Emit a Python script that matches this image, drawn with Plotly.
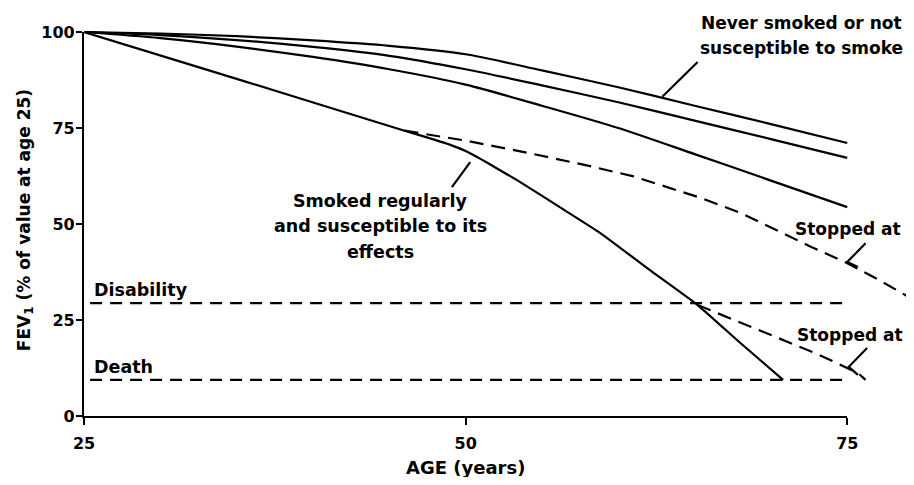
import plotly.graph_objects as go

# ---- data ----
ages_std = [25, 30, 35, 40, 45, 50, 55, 60, 65, 70, 75]
fev_never = [100, 99.6, 98.9, 97.8, 96.4, 94.2, 90.0, 85.6, 80.8, 76.0, 71.1]
fev_mid = [100, 99.2, 97.9, 96.1, 93.8, 90.3, 86.1, 81.7, 76.9, 72.1, 67.2]
fev_low = [100, 98.4, 96.2, 93.5, 90.3, 86.3, 80.8, 75.0, 68.2, 61.3, 54.4]

ages_smoker = [25, 35, 46, 48, 49, 50, 51, 52, 53.5, 56.4, 58.8, 62, 65.2, 68, 70.8]
fev_smoker = [100, 87.8, 74.3, 71.9, 70.6, 69.0, 66.9, 64.6, 61.1, 53.8, 47.7, 38.2, 28.9, 19.0, 9.4]

ages_stop45 = [46, 50, 54, 58, 61, 63, 65.4, 68, 70.2, 72.5, 75, 77, 79.2]
fev_stop45 = [74.3, 71.7, 68.6, 65.2, 62.4, 59.9, 56.8, 52.9, 48.6, 44.3, 39.8, 35.6, 30.6]

ages_stop65 = [65.2, 68, 70.6, 73, 75.7, 76.2]
fev_stop65 = [28.9, 24.4, 20.2, 16.2, 11.2, 9.4]

threshold_ages = [25.4, 75]
disability_level = 29.4
death_level = 9.4

x_ticks = [25, 50, 75]
y_ticks = [0, 25, 50, 75, 100]

# ---- figure ----
FONT = "DejaVu Sans"
BLK = "black"
PX_PER_YEAR = 15.265
# page body has an 8px margin; figure is sized/offset to compensate
W, H = 898, 469
L, R, T, B = 76, 0, 16, 61
X_MAX = 25 + (W - L - R) / PX_PER_YEAR
Y_MAX = 102.08
PLOT_H = H - T - B
PLOT_BOTTOM_WIN = 8 + T + PLOT_H  # window pixel of y=0


def paper_y(win_y):
    return (PLOT_BOTTOM_WIN - win_y) / PLOT_H


fig = go.Figure()

solid = dict(color=BLK, width=2.2)
dash_curve = dict(color=BLK, width=2.2, dash="14px,8px")
dash_level = dict(color=BLK, width=2.2, dash="12px,8px")

for ys in (fev_never, fev_mid, fev_low):
    fig.add_trace(go.Scatter(x=ages_std, y=ys, mode="lines", line=dict(solid, smoothing=0.8),
                             line_shape="spline", showlegend=False, hoverinfo="skip"))
fig.add_trace(go.Scatter(x=ages_smoker, y=fev_smoker, mode="lines",
                         line=dict(solid, smoothing=0.4), line_shape="spline",
                         showlegend=False, hoverinfo="skip"))
fig.add_trace(go.Scatter(x=ages_stop45, y=fev_stop45, mode="lines", line=dash_curve,
                         showlegend=False, hoverinfo="skip"))
fig.add_trace(go.Scatter(x=ages_stop65, y=fev_stop65, mode="lines", line=dash_curve,
                         showlegend=False, hoverinfo="skip"))
fig.add_trace(go.Scatter(x=threshold_ages, y=[disability_level] * 2, mode="lines",
                         line=dash_level, showlegend=False, hoverinfo="skip"))
fig.add_trace(go.Scatter(x=threshold_ages, y=[death_level] * 2, mode="lines",
                         line=dash_level, showlegend=False, hoverinfo="skip"))

# dummy trace for the visible axes subplot
fig.add_trace(go.Scatter(x=[], y=[], xaxis="x2", yaxis="y2", showlegend=False,
                         hoverinfo="skip"))

# pointer lines for labels
pointers = [
    [(65.2, 92.2), (62.9, 83.2)],
    [(50.3, 66.1), (49.1, 59.6)],
    [(76.2, 45.0), (75.0, 40.1), (75.7, 38.8)],
    [(76.3, 17.7), (75.1, 12.8), (75.7, 10.7)],
]
for pts in pointers:
    path = "M " + " L ".join(f"{px},{py}" for px, py in pts)
    fig.add_shape(type="path", path=path, xref="x", yref="y",
                  line=dict(color=BLK, width=2.2))


def label(text, x, y, xanchor="center", yref="y", size=17.5):
    fig.add_annotation(text=text, x=x, y=y, xref="x", yref=yref, showarrow=False,
                       xanchor=xanchor, yanchor="middle",
                       font=dict(family=FONT, size=size, color=BLK, weight="bold"))


label("Never smoked or not", 72.0, paper_y(23), yref="paper", size=17)
label("susceptible to smoke", 72.0, paper_y(48), yref="paper", size=17)
label("Smoked regularly", 44.4, 56.0)
label("and susceptible to its", 44.4, 49.5)
label("effects", 44.4, 42.6)
label("Disability", 25.55, 32.9, xanchor="left")
label("Death", 25.5, 12.8, xanchor="left")
label("Stopped at", 71.45, 48.6, xanchor="left", size=17)
label("Stopped at", 71.55, 21.0, xanchor="left", size=17)

# axis titles
fig.add_annotation(text="FEV<sub>1</sub> (% of value at age 25)", x=(17 - L) / (W - L - R),
                   y=51, xref="paper", yref="y", showarrow=False, textangle=-90,
                   xanchor="center", yanchor="middle",
                   font=dict(family=FONT, size=17, color=BLK, weight="bold"))
fig.add_annotation(text="AGE (years)", x=50, y=paper_y(467), xref="x", yref="paper",
                   showarrow=False, xanchor="center", yanchor="middle",
                   font=dict(family=FONT, size=18, color=BLK, weight="bold"))

tickfont = dict(family=FONT, size=16, color=BLK, weight="bold")

fig.update_layout(
    width=W, height=H, autosize=False,
    margin=dict(l=L, r=R, t=T, b=B, autoexpand=False),
    paper_bgcolor="white",
    plot_bgcolor="rgba(0,0,0,0)",
    showlegend=False,
    xaxis=dict(range=[25, X_MAX], visible=False, fixedrange=True),
    yaxis=dict(range=[0, Y_MAX], visible=False, fixedrange=True),
    xaxis2=dict(domain=[0, (75 - 25) / (X_MAX - 25)], range=[25, 75], anchor="y2",
                showline=True, linecolor=BLK, linewidth=2.2, showgrid=False,
                zeroline=False, ticks="outside", ticklen=7, tickwidth=2,
                tickcolor=BLK, tickvals=x_ticks, ticktext=[str(v) for v in x_ticks],
                tickfont=tickfont, ticklabelstandoff=5),
    yaxis2=dict(domain=[0, 100 / Y_MAX], range=[0, 100], anchor="x2",
                showline=True, linecolor=BLK, linewidth=2.2, showgrid=False,
                zeroline=False, ticks="outside", ticklen=6, tickwidth=2,
                tickcolor=BLK, tickvals=y_ticks, ticktext=[str(v) for v in y_ticks],
                tickfont=tickfont, ticklabelstandoff=-2),
)

fig.write_html("out.html", config={"responsive": False, "displayModeBar": False})
